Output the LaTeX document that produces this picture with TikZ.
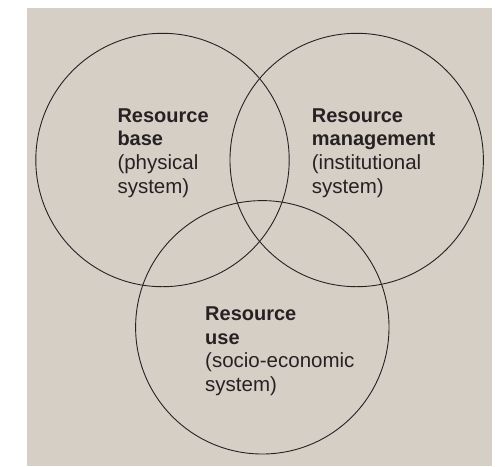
\documentclass[tikz,border=0pt]{standalone}
\usepackage{fontspec}
\setmainfont{Liberation Sans}
\definecolor{bgbeige}{RGB}{214,207,198}
\definecolor{inkdark}{RGB}{38,34,35}
\newcommand{\hd}[1]{{\fontsize{20}{23.6}\selectfont\bfseries #1}}
\begin{document}
\begin{tikzpicture}[x=1pt,y=-1pt,
  ring/.style={draw=inkdark,line width=0.9pt},
  lbl/.style={anchor=base west,inner sep=0pt,align=left,text=inkdark,
    font=\fontsize{20.5}{23.6}\selectfont}]
\useasboundingbox (0,0) rectangle (497,466);
\fill[bgbeige] (27,8) rectangle (492,466);
\draw[ring] (162.5,160) circle[radius=126.7];
\draw[ring] (356.7,160) circle[radius=126.7];
\draw[ring] (262.3,327.3) circle[radius=126.7];
% base anchor = baseline of the last line
\node[lbl] (base) at (117.3,193.1) {\hd{Resource}\\\hd{base}\\(physical\\system)};
\node[lbl] (mgmt) at (311.7,193.1) {\hd{Resource}\\\hd{management}\\(institutional\\system)};
\node[lbl] (use) at (205,391.5) {\hd{Resource}\\\hd{use}\\(socio-economic\\system)};
\end{tikzpicture}
\end{document}
